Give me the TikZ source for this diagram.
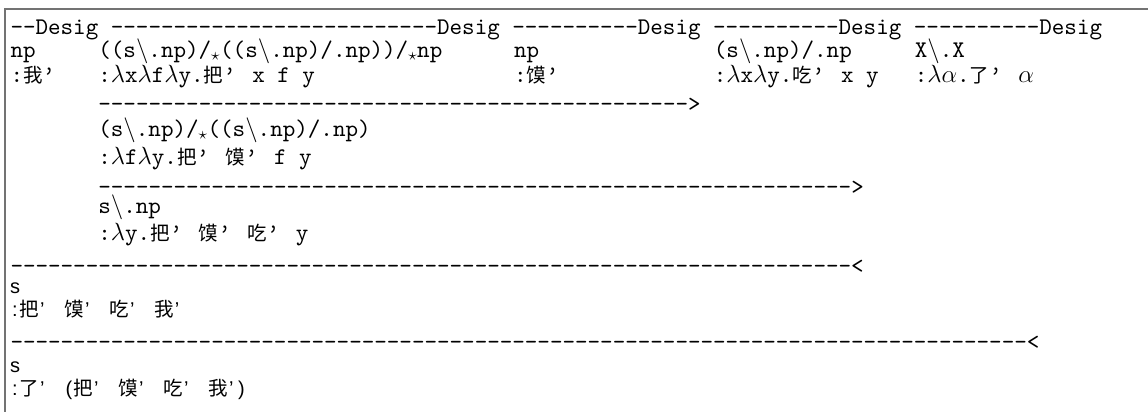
\documentclass[tikz,border=0pt]{standalone}
\usepackage{fontspec}
\setmonofont{lmmono10-regular.otf}
\newfontfamily\cjkfont{Noto Sans CJK SC}
\newfontfamily\latsans{Liberation Sans}
\newcommand\zh[1]{{\cjkfont\fontsize{19.5}{19.5}\selectfont #1}}
\newcommand\bsl{$\backslash$}
\newcommand\st{$_\star$}
\newcommand\lam{$\lambda$}
% full-width quote after a CJK character (tt rows)
\newcommand\fq{\makebox[16.5pt][l]{’}}
% half-width Latin glyph (sans rows)
\newcommand\hw[1]{\makebox[9pt][c]{\latsans\fontsize{20}{20}\selectfont #1}}
% full-width quote plus half-width space (sans rows)
\newcommand\sq{\makebox[16.5pt][l]{\latsans\fontsize{20}{20}\selectfont\hspace{1pt}’}}
\newcommand\hsq{\sq\hspace{9pt}}
\definecolor{framegray}{RGB}{115,115,115}
\tikzset{
  tt/.style={anchor=base west, inner sep=0pt, outer sep=0pt, font=\fontsize{23.9}{26}\selectfont\ttfamily},
  sf/.style={anchor=base west, inner sep=0pt, outer sep=0pt, font=\fontsize{18}{20}\selectfont},
  frameline/.style={draw=framegray, line width=1.4pt}
}
\begin{document}
\begin{tikzpicture}[x=1pt,y=-1pt]
\useasboundingbox (0,0) rectangle (1148,412);
\fill[white] (0,0) rectangle (1148,412);
\draw[frameline] (5,413) -- (5,9) -- (1149,9);
% header
\node[tt] (hdr) at (10.5,35) {--Desig --------------------------Desig ----------Desig ----------Desig ----------Desig};
% row 1
\node[tt] (c0a) at (10.5,57) {np};
\node[tt] (c1a) at (98.4,57) {((s\bsl.np)/\st((s\bsl.np)/.np))/\st np};
\node[tt] (c2a) at (514,57) {np};
\node[tt] (c3a) at (713.9,57) {(s\bsl.np)/.np};
\node[tt] (c4a) at (914.8,57) {X\bsl.X};
% row 2
\node[tt] (c0b) at (10.5,82) {:\zh{我}\fq};
\node[tt] (c1b) at (98.4,82) {:\lam x\lam f\lam y.\zh{把}\fq{} x f y};
\node[tt] (c2b) at (514,82) {:\zh{馍}\fq};
\node[tt] (c3b) at (713.9,82) {:\lam x\lam y.\zh{吃}\fq{} x y};
\node[tt] (c4b) at (914.8,82) {:\lam$\alpha$.\zh{了}\fq{} $\alpha$};
% row 3
\node[tt] (r3) at (98.4,111) {-----------------------------------------------{>}};
% rows 4-5
\node[tt] (r4) at (98.4,136) {(s\bsl.np)/\st((s\bsl.np)/.np)};
\node[tt] (r5) at (98.4,164) {:\lam f\lam y.\zh{把}\fq{} \zh{馍}\fq{} f y};
% row 6
\node[tt] (r6) at (98.4,194) {------------------------------------------------------------{>}};
% rows 7-8
\node[tt] (r7) at (98.4,213) {s\bsl.np};
\node[tt] (r8) at (98.4,240) {:\lam y.\zh{把}\fq{} \zh{馍}\fq{} \zh{吃}\fq{} y};
% row 9
\node[tt] (r9) at (10.5,273) {-------------------------------------------------------------------{<}};
% rows 10-11
\node[sf] (r10) at (10.5,293) {\hw{s}};
\node[sf] (r11) at (10.5,316) {\hw{:}\zh{把}\hsq\zh{馍}\hsq\zh{吃}\hsq\zh{我}\sq};
% row 12
\node[tt] (r12) at (10.5,349) {---------------------------------------------------------------------------------{<}};
% rows 13-14
\node[sf] (r13) at (10.5,372) {\hw{s}};
\node[sf] (r14) at (10.5,395) {\hw{:}\zh{了}\hsq\hw{(}\zh{把}\hsq\zh{馍}\hsq\zh{吃}\hsq\zh{我}\makebox[9pt][l]{\latsans\fontsize{20}{20}\selectfont\hspace{1pt}’}\hw{)}};
\end{tikzpicture}
\end{document}
